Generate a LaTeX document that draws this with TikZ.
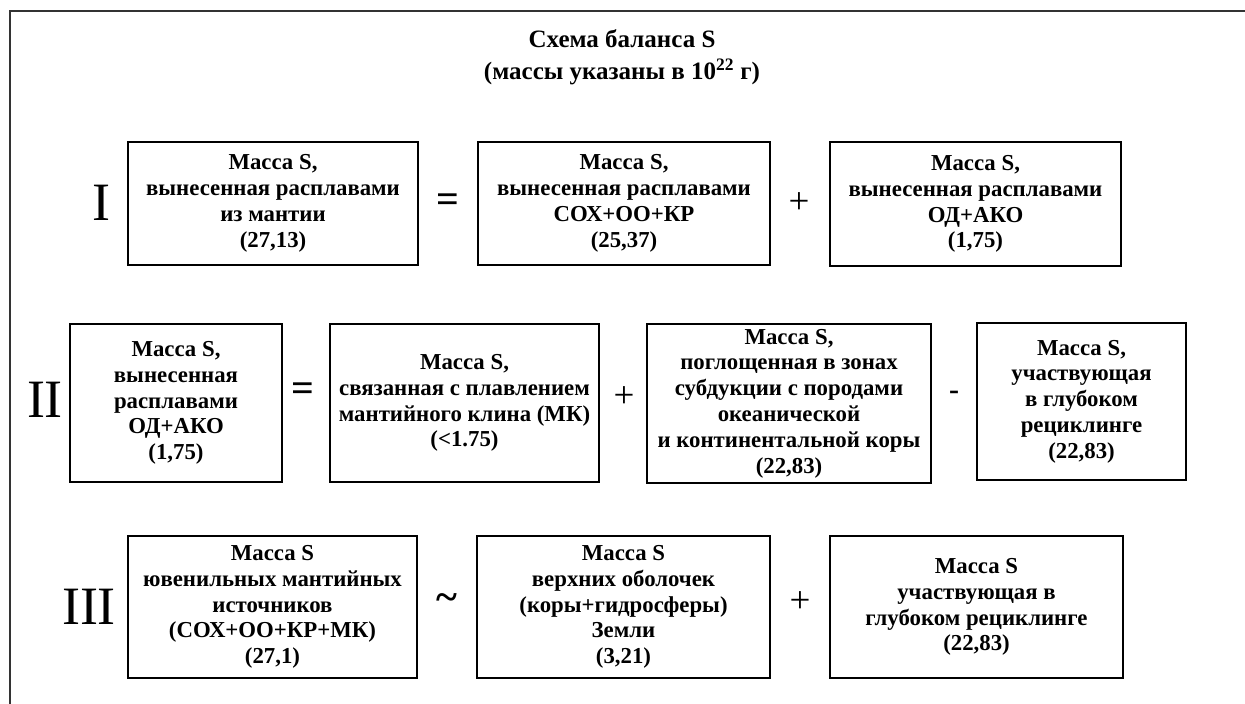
\documentclass[tikz,border=0pt]{standalone}
\usepackage{fontspec}
\setmainfont{Liberation Serif}
\begin{document}
\begin{tikzpicture}[x=1pt,y=-1pt,
  box/.style={draw=black, line width=1.9pt, align=center, inner sep=0pt,
    font=\fontsize{22.8}{25.8}\selectfont\bfseries},
  roman/.style={font=\fontsize{54}{54}\selectfont, inner sep=0pt},
  opsign/.style={font=\fontsize{37}{37}\selectfont, inner sep=0pt},
  opbold/.style={font=\fontsize{40}{40}\selectfont\bfseries, inner sep=0pt},
  opsmall/.style={font=\fontsize{30}{30}\selectfont\bfseries, inner sep=0pt},
  optilde/.style={font=\fontsize{40}{40}\selectfont\bfseries, inner sep=0pt},
  titletext/.style={font=\fontsize{25}{32}\selectfont\bfseries, align=center, inner sep=0pt}]
\useasboundingbox (0,0) rectangle (1245,704);
\fill[white] (0,0) rectangle (1245,704);
\draw[line width=2.5pt, color=black!80] (10,704) -- (10,11) -- (1245,11);

\node[titletext] (title) at (622,57) {Схема баланса S\\(массы указаны в 10\textsuperscript{22} г)};

% Row I
\node[roman] (r1) at (101,203) {I};
\node[box, minimum width=290pt, minimum height=123pt] (a1) at (273,203.5)
  {Масса S,\\вынесенная расплавами\\из мантии\\(27,13)};
\node[opbold] (eq1) at (448,203) {=};
\node[box, minimum width=292pt, minimum height=123pt] (a2) at (624,203.5)
  {Масса S,\\вынесенная расплавами\\СОХ+ОО+КР\\(25,37)};
\node[opsign] (pl1) at (799,203) {+};
\node[box, minimum width=291pt, minimum height=124pt] (a3) at (975.5,204)
  {Масса S,\\вынесенная расплавами\\ОД+АКО\\(1,75)};

% Row II
\node[roman] (r2) at (45,400) {II};
\node[box, minimum width=212pt, minimum height=158pt] (b1) at (176,403)
  {Масса S,\\вынесенная\\расплавами\\ОД+АКО\\(1,75)};
\node[opbold] (eq2) at (303,392) {=};
\node[box, minimum width=269pt, minimum height=158pt] (b2) at (464.5,403)
  {Масса S,\\связанная с плавлением\\мантийного клина (МК)\\(<1.75)};
\node[opsign] (pl2) at (624,397) {+};
\node[box, minimum width=284pt, minimum height=159pt] (b3) at (789,403.5)
  {Масса S,\\поглощенная в зонах\\субдукции с породами\\океанической\\и континентальной коры\\(22,83)};
\node[opsmall] (mn2) at (954,395) {-};
\node[box, minimum width=209pt, minimum height=157pt] (b4) at (1081.5,401.5)
  {Масса S,\\участвующая\\в глубоком\\рециклинге\\(22,83)};

% Row III
\node[roman] (r3) at (89,607) {III};
\node[box, minimum width=289pt, minimum height=142pt] (c1) at (272.5,607)
  {Масса S\\ювенильных мантийных\\источников\\(СОХ+ОО+КР+МК)\\(27,1)};
\node[optilde] (tl3) at (447,602) {\textasciitilde};
\node[box, minimum width=293pt, minimum height=142pt] (c2) at (623.5,607)
  {Масса S\\верхних оболочек\\(коры+гидросферы)\\Земли\\(3,21)};
\node[opsign] (pl3) at (800,602) {+};
\node[box, minimum width=293pt, minimum height=142pt] (c3) at (976.5,607)
  {Масса S\\участвующая в\\глубоком рециклинге\\(22,83)};
\end{tikzpicture}
\end{document}
